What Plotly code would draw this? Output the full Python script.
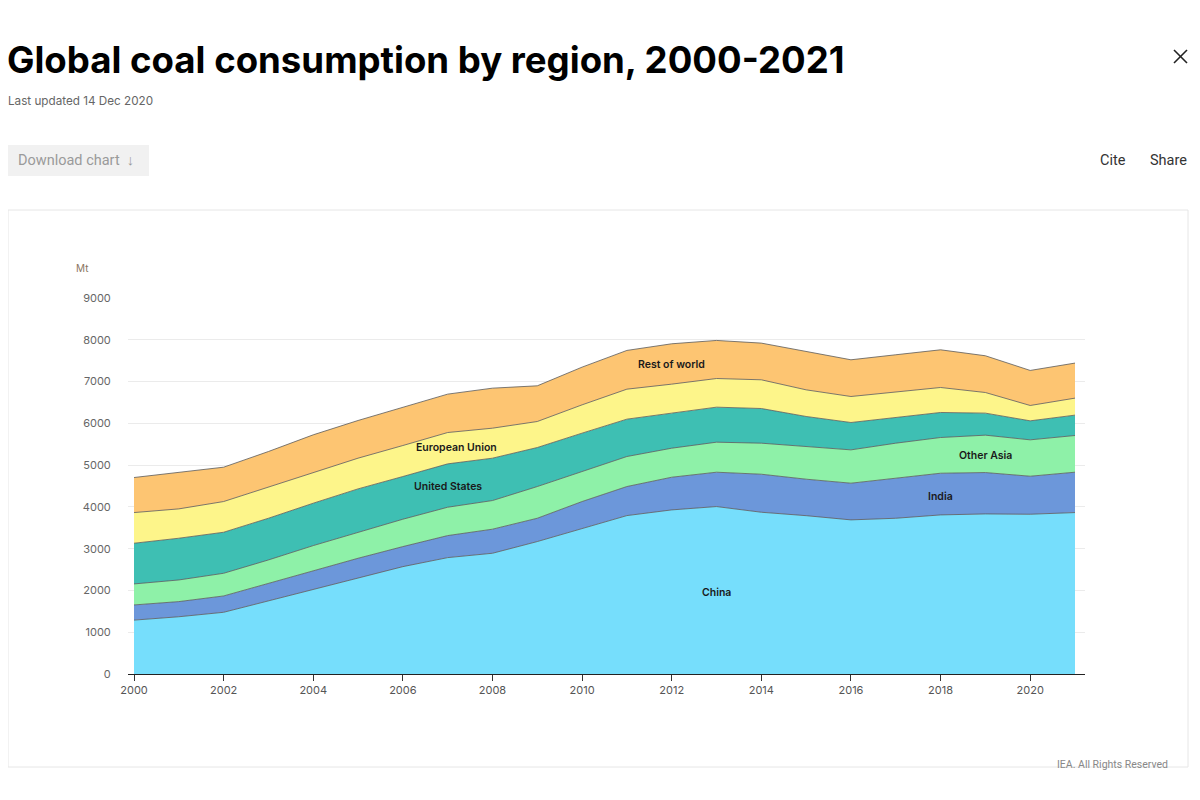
import plotly.graph_objects as go

# ---------------- data (Mt) ----------------
years = list(range(2000, 2022))
china = [1290, 1370, 1477, 1750, 2028, 2300, 2570, 2786, 2890, 3170, 3490,
         3792, 3928, 4008, 3872, 3790, 3689, 3728, 3808, 3832, 3824, 3864]
india = [363, 363, 391, 422, 446, 470, 480, 527, 576, 558, 638,
         695, 782, 822, 910, 873, 878, 950, 998, 990, 910, 966]
other_asia = [503, 518, 543, 558, 600, 623, 655, 679, 686, 759, 718,
              719, 695, 719, 743, 782, 798, 847, 855, 895, 871, 879]
united_states = [974, 999, 982, 998, 1014, 1038, 1022, 1038, 1014, 934, 919,
                 894, 839, 838, 830, 719, 655, 623, 599, 527, 455, 487]
european_union = [734, 702, 735, 744, 742, 735, 742, 750, 718, 623, 678,
                  718, 694, 686, 687, 638, 622, 606, 598, 494, 367, 407]
rest_of_world = [839, 870, 822, 853, 895, 902, 911, 919, 958, 854, 902,
                 927, 966, 911, 878, 918, 879, 887, 902, 879, 839, 839]

region_names = ["China", "India", "Other Asia", "United States",
                "European Union", "Rest of world"]
region_values = [china, india, other_asia, united_states, european_union, rest_of_world]
x_tick_vals = list(range(2000, 2021, 2))
y_tick_vals = list(range(0, 9001, 1000))

# label anchor points (data coordinates)
label_x = [2013.0, 2018.0, 2019.0, 2007.0, 2007.2, 2012.0]
label_y = [1960, 4260, 5220, 4480, 5410, 7400]

colors = ["#76DEFC", "#6C97DA", "#8EF1A8", "#3EBFB3", "#FDF58A", "#FDC572"]

# ---------------- layout geometry (page pixels) ----------------
OFF = 8                      # page body margin
W, H = 1200 - OFF, 800 - OFF
L, R, T, B = 128, 1085, 298, 674   # plot area in page pixels


def px(x):
    return (x - L) / (R - L)


def py(y):
    return (B - y) / (B - T)


FONT = "Inter"

fig = go.Figure()
for name, vals, col in zip(region_names, region_values, colors):
    fig.add_trace(go.Scatter(
        x=years, y=vals, name=name, mode="lines",
        stackgroup="one", fillcolor=col,
        line=dict(color="#5a5a5a", width=0.8),
        hoverinfo="x+y+name",
    ))

annotations = []
for name, lx, ly in zip(region_names, label_x, label_y):
    annotations.append(dict(
        x=lx, y=ly, xref="x", yref="y", text=name, showarrow=False,
        font=dict(family=FONT, size=10.5, color="#1a1a1a", weight=600),
        xanchor="center", yanchor="middle"))

# title & page elements
annotations += [
    dict(x=px(5), y=py(60), xref="paper", yref="paper", showarrow=False,
         text="Global coal consumption by region, 2000-2021",
         font=dict(family=FONT, size=36.6, color="#000000", weight=700),
         xanchor="left", yanchor="middle"),
    dict(x=px(6), y=py(101), xref="paper", yref="paper", showarrow=False,
         text="Last updated 14 Dec 2020",
         font=dict(family=FONT, size=11.7, color="#666666"),
         xanchor="left", yanchor="middle"),
    dict(x=px(16), y=py(160), xref="paper", yref="paper", showarrow=False,
         text="Download chart \u00a0\u2193",
         font=dict(family="Roboto", size=14.5, color="#9a9a9a"),
         xanchor="left", yanchor="middle"),
    dict(x=px(1128), y=py(160), xref="paper", yref="paper", showarrow=False,
         text="Cite", font=dict(family="Roboto", size=14.5, color="#333333"),
         xanchor="right", yanchor="middle"),
    dict(x=px(1189), y=py(160), xref="paper", yref="paper", showarrow=False,
         text="Share", font=dict(family="Roboto", size=14.5, color="#333333"),
         xanchor="right", yanchor="middle"),
    dict(x=px(74), y=py(268), xref="paper", yref="paper", showarrow=False,
         text="Mt", font=dict(family=FONT, size=10, color="#8a7560"),
         xanchor="left", yanchor="middle"),
    dict(x=px(1170), y=py(764), xref="paper", yref="paper", showarrow=False,
         text="IEA. All Rights Reserved",
         font=dict(family="Roboto", size=10.5, color="#888888"),
         xanchor="right", yanchor="middle"),
]

shapes = [
    # chart container
    dict(type="rect", xref="paper", yref="paper",
         x0=px(8), x1=px(1188), y0=py(210), y1=py(767),
         line=dict(color="#e6e6e6", width=1), fillcolor="rgba(0,0,0,0)", layer="below"),
    # download button
    dict(type="rect", xref="paper", yref="paper",
         x0=px(7), x1=px(149), y0=py(145), y1=py(176),
         line=dict(width=0), fillcolor="#f1f1f1", layer="below"),
    # close icon
    dict(type="line", xref="paper", yref="paper",
         x0=px(1174), x1=px(1187), y0=py(50), y1=py(63),
         line=dict(color="#222222", width=1.6)),
    dict(type="line", xref="paper", yref="paper",
         x0=px(1174), x1=px(1187), y0=py(63), y1=py(50),
         line=dict(color="#222222", width=1.6)),
]

x0_rng = 2000 - (134 - L) / 44.8
x1_rng = 2021 + (R - 1075) / 44.8

fig.update_layout(
    width=W, height=H,
    margin=dict(l=L - OFF, r=W - (R - OFF), t=T - OFF, b=H - (B - OFF), pad=0),
    paper_bgcolor="white", plot_bgcolor="white",
    showlegend=False,
    annotations=annotations,
    shapes=shapes,
    font=dict(family=FONT),
    xaxis=dict(
        range=[x0_rng, x1_rng], tickvals=x_tick_vals,
        ticks="outside", ticklen=6, tickcolor="#333333", tickwidth=1,
        showline=True, linecolor="#222222", linewidth=1,
        showgrid=False, zeroline=False,
        tickfont=dict(family=FONT, size=11, color="#555555"),
    ),
    yaxis=dict(
        range=[0, 9000], tickvals=y_tick_vals,
        showgrid=True, gridcolor="#ebebeb", gridwidth=1,
        zeroline=False, showline=False,
        ticks="outside", ticklen=14, tickcolor="rgba(0,0,0,0)",
        tickfont=dict(family=FONT, size=11, color="#666666"),
    ),
)

fig.write_html("out.html")
